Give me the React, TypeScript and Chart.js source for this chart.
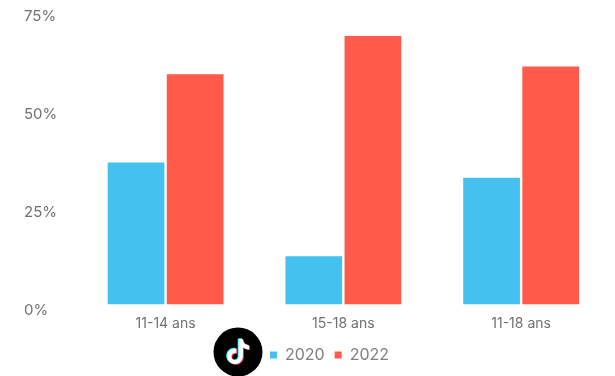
import React, { useEffect, useRef } from "react";
import { Chart, registerables } from "chart.js";

Chart.register(...registerables);

const categories = ["11-14 ans", "15-18 ans", "11-18 ans"];
const series2020 = [37, 12.5, 33];
const series2022 = [60, 70, 62];
const percentTicks = [0, 25, 50, 75];

const BLUE = "#45C1F0";
const RED = "#FF5A4A";
const FONT = "Inter, 'Open Sans', sans-serif";
const TIKTOK =
  "M12.525.02c1.31-.02 2.61-.01 3.91-.02.08 1.53.63 3.09 1.75 4.17 1.12 1.11 2.7 1.62 4.24 1.79v4.03c-1.44-.05-2.89-.35-4.2-.97-.57-.26-1.1-.59-1.62-.93-.01 2.92.01 5.84-.02 8.75-.08 1.4-.54 2.79-1.35 3.94-1.31 1.92-3.58 3.17-5.91 3.21-1.43.08-2.86-.31-4.08-1.03-2.02-1.19-3.44-3.37-3.65-5.71-.02-.5-.03-1-.01-1.49.18-1.9 1.12-3.72 2.58-4.96 1.66-1.44 3.98-2.13 6.15-1.72.02 1.48-.04 2.96-.04 4.44-.99-.32-2.15-.23-3.02.37-.63.41-1.11 1.04-1.36 1.75-.21.51-.15 1.07-.14 1.61.24 1.64 1.82 3.02 3.5 2.87 1.12-.01 2.19-.66 2.77-1.61.19-.33.4-.67.41-1.06.1-1.79.06-3.57.07-5.36.01-4.03-.01-8.05.02-12.07z";

// Moves the legend right of the page centre, so it sits beside the logo.
const legendShift = {
  id: "legendShift",
  afterLayout(chart: any) {
    const dx = 12.5;
    chart.legend.left += dx;
    chart.legend.right += dx;
  },
};

export default function App() {
  const ref = useRef<HTMLCanvasElement>(null);

  useEffect(() => {
    document.body.style.margin = "0";
    const chart = new Chart(ref.current!, {
      type: "bar",
      data: {
        labels: categories,
        datasets: [
          { label: "2020", data: series2020, backgroundColor: BLUE, yAxisID: "y", categoryPercentage: 0.665, barPercentage: 0.96 },
          { label: "2022", data: series2022, backgroundColor: RED, yAxisID: "y", categoryPercentage: 0.665, barPercentage: 0.96 },
        ],
      },
      options: {
        animation: false,
        responsive: false,
        layout: { padding: { left: 24, right: 5, top: 16, bottom: 3 } },
        plugins: {
          tooltip: { enabled: false },
          legend: {
            position: "bottom",
            labels: {
              usePointStyle: true,
              pointStyle: "rect",
              boxWidth: 7,
              boxHeight: 7,
              padding: 10,
              color: "#808080",
              font: { family: FONT, size: 16 },
            },
          },
        },
        scales: {
          x: {
            grid: { display: false, drawTicks: false },
            border: { display: false },
            ticks: { color: "#707070", padding: 5, font: { family: FONT, size: 14 } },
          },
          // Bar scale: carries the baseline only, with its zero a little above the plot bottom.
          y: {
            position: "left",
            min: -1.57,
            max: 75.2,
            afterFit: (s: any) => { s.width = 0; },
            border: { display: false },
            grid: {
              drawTicks: false,
              lineWidth: 2,
              color: (c: any) => (c.tick && c.tick.value === 0 ? "#EFEFEF" : "rgba(0,0,0,0)"),
            },
            ticks: { display: false, stepSize: 25 },
          },
          // Label scale: the percentage labels run on slightly wider spacing than the bars.
          labelsY: {
            position: "left",
            min: percentTicks[0],
            max: percentTicks[percentTicks.length - 1],
            afterFit: (s: any) => { s.width = 52.7; },
            afterBuildTicks: (s: any) => { s.ticks = percentTicks.map((value) => ({ value })); },
            border: { display: false },
            grid: { display: false, drawTicks: false },
            ticks: {
              crossAlign: "far",
              color: "#707070",
              font: { family: FONT, size: 15 },
              callback: (v: any) => `${v}%`,
            },
          },
        },
      },
      plugins: [legendShift],
    } as any);
    return () => chart.destroy();
  }, []);

  return (
    <div style={{ position: "relative", width: 615, height: 376, overflow: "hidden", background: "#fff" }}>
      <canvas ref={ref} width={615} height={376} style={{ display: "block" }} />
      <svg width={50} height={50} viewBox="0 0 50 50" style={{ position: "absolute", left: 213, top: 327 }}>
        <circle cx={25} cy={25} r={24.5} fill="#000" />
        <g transform="translate(12.5 12) scale(1.05)">
          <path d={TIKTOK} fill="#25F4EE" transform="translate(-0.9 -0.6)" />
          <path d={TIKTOK} fill="#FE2C55" transform="translate(0.9 0.6)" />
          <path d={TIKTOK} fill="#fff" />
        </g>
      </svg>
    </div>
  );
}
